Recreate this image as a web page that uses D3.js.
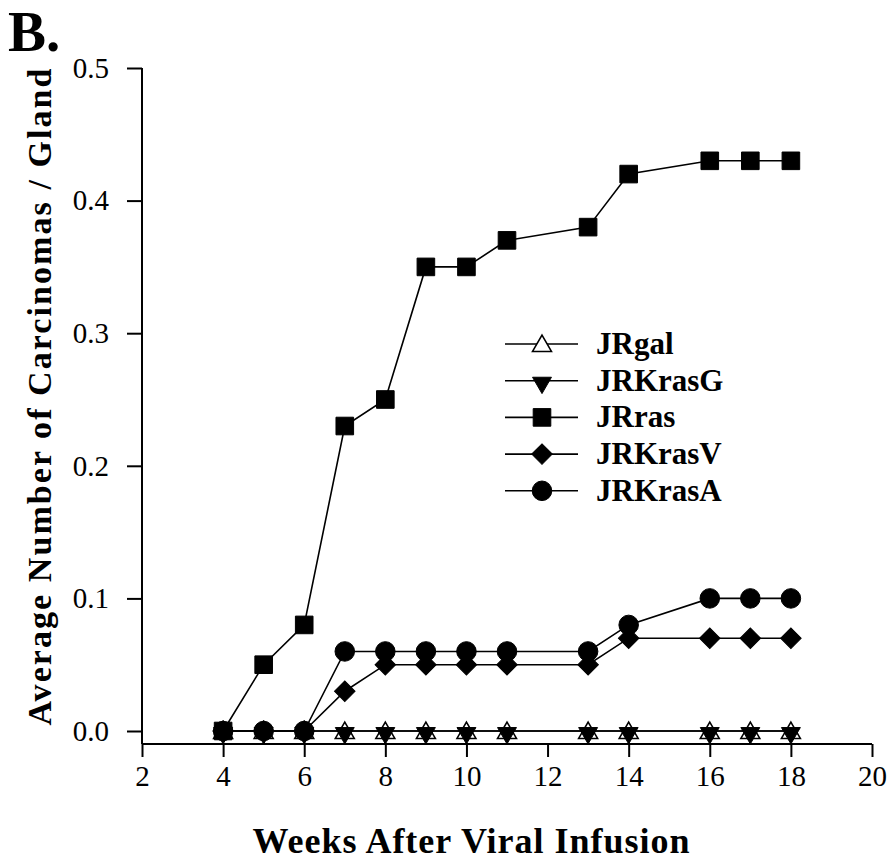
<!DOCTYPE html>
<html>
<head>
<meta charset="utf-8">
<script src="https://cdn.jsdelivr.net/npm/d3@7"></script>
<style>
  body { margin: 0; background: #fff; }
  svg text { font-family: "Liberation Serif", "Times New Roman", serif; fill: #000; }
</style>
</head>
<body>
<svg id="chart" width="891" height="861"></svg>
<script>
var weeks = [4, 5, 6, 7, 8, 9, 10, 11, 13, 14, 16, 17, 18];
var jrGal   = [0, 0, 0, 0, 0, 0, 0, 0, 0, 0, 0, 0, 0];
var jrKrasG = [0, 0, 0, 0, 0, 0, 0, 0, 0, 0, 0, 0, 0];
var jrRas   = [0, 0.05, 0.08, 0.23, 0.25, 0.35, 0.35, 0.37, 0.38, 0.42, 0.43, 0.43, 0.43];
var jrKrasV = [0, 0, 0, 0.03, 0.05, 0.05, 0.05, 0.05, 0.05, 0.07, 0.07, 0.07, 0.07];
var jrKrasA = [0, 0, 0, 0.06, 0.06, 0.06, 0.06, 0.06, 0.06, 0.08, 0.10, 0.10, 0.10];

var xTicks = [2, 4, 6, 8, 10, 12, 14, 16, 18, 20];
var yTicks = [0, 0.1, 0.2, 0.3, 0.4, 0.5];

// legend order = draw order (later ones sit on top)
var series = [
  {name: 'JRgal',   values: jrGal,   shape: 'triUp'},
  {name: 'JRKrasG', values: jrKrasG, shape: 'triDown'},
  {name: 'JRras',   values: jrRas,   shape: 'square'},
  {name: 'JRKrasV', values: jrKrasV, shape: 'diamond'},
  {name: 'JRKrasA', values: jrKrasA, shape: 'circle'}
];

var svg = d3.select('#chart');
var x = d3.scaleLinear().domain([2, 20]).range([142, 872]);
var y = d3.scaleLinear().domain([0, 0.5]).range([731, 68]);
var axisY = 744;

function marker(sel, shape) {
  var gen = d3.symbol();
  if (shape == 'triUp' || shape == 'triDown') gen.type(d3.symbolTriangle).size(155);
  else if (shape == 'square') gen.type(d3.symbolSquare).size(310);
  else if (shape == 'diamond') gen.type(d3.symbolSquare).size(210);
  else gen.type(d3.symbolCircle).size(300);
  sel.append('path')
     .attr('d', gen())
     .attr('transform', function() {
       if (shape == 'triDown') return 'rotate(180) translate(0,-2)';
       if (shape == 'triUp') return 'translate(0,2)';
       if (shape == 'diamond') return 'rotate(45)';
       return null;
     })
     .attr('fill', shape == 'triUp' ? '#fff' : '#000')
     .attr('stroke', '#000')
     .attr('stroke-width', shape == 'triUp' ? 1.6 : 1);
}

// axes
var xAxis = d3.axisBottom(x).tickValues(xTicks).tickSize(13).tickPadding(8)
              .tickFormat(d3.format('d'));
var gx = svg.append('g').attr('transform', 'translate(0,' + axisY + ')').call(xAxis);
gx.select('.domain').attr('d', 'M' + x(2) + ',0H' + x(20)).attr('stroke-width', 2);
gx.selectAll('.tick line').attr('stroke-width', 2);
gx.selectAll('.tick text').attr('font-size', 29).attr('font-family', '"Liberation Serif", serif');

var yAxis = d3.axisLeft(y).tickValues(yTicks).tickSize(15).tickPadding(18)
              .tickFormat(d3.format('.1f'));
var gy = svg.append('g').attr('transform', 'translate(142,0)').call(yAxis);
gy.select('.domain').attr('d', 'M0,' + y(0.5) + 'V' + axisY).attr('stroke-width', 2);
gy.selectAll('.tick line').attr('stroke-width', 2);
gy.selectAll('.tick text').attr('font-size', 29).attr('font-family', '"Liberation Serif", serif');

// lines and markers
var line = d3.line()
  .x(function(d) { return x(d.w); })
  .y(function(d) { return y(d.v); });

series.forEach(function(s) {
  var pts = weeks.map(function(w, i) { return {w: w, v: s.values[i]}; });
  var g = svg.append('g');
  g.append('path')
   .datum(pts)
   .attr('d', line)
   .attr('fill', 'none')
   .attr('stroke', '#000')
   .attr('stroke-width', 1.6);
  pts.forEach(function(p) {
    var m = g.append('g').attr('transform', 'translate(' + x(p.w) + ',' + y(p.v) + ')');
    marker(m, s.shape);
  });
});

// legend
var legend = svg.append('g').attr('transform', 'translate(505,344)');
series.forEach(function(s, i) {
  var row = legend.append('g').attr('transform', 'translate(0,' + (i * 36.7) + ')');
  row.append('line').attr('x1', 0).attr('x2', 73).attr('y1', 0).attr('y2', 0)
     .attr('stroke', '#000').attr('stroke-width', 1.6);
  var m = row.append('g').attr('transform', 'translate(37,0)');
  marker(m, s.shape);
  row.append('text').attr('x', 91).attr('y', 10)
     .attr('font-size', 31).attr('font-weight', 'bold')
     .text(s.name);
});

// titles
svg.append('text')
   .attr('x', 471).attr('y', 853)
   .attr('text-anchor', 'middle')
   .attr('font-size', 36).attr('font-weight', 'bold')
   .attr('textLength', 437).attr('lengthAdjust', 'spacing')
   .text('Weeks After Viral Infusion');

svg.append('text')
   .attr('transform', 'translate(51,397) rotate(-90)')
   .attr('text-anchor', 'middle')
   .attr('font-size', 34).attr('font-weight', 'bold')
   .attr('textLength', 657).attr('lengthAdjust', 'spacing')
   .text('Average Number of Carcinomas / Gland');

svg.append('text')
   .attr('x', 8).attr('y', 51)
   .attr('font-size', 57).attr('font-weight', 'bold')
   .text('B.');
</script>
</body>
</html>
